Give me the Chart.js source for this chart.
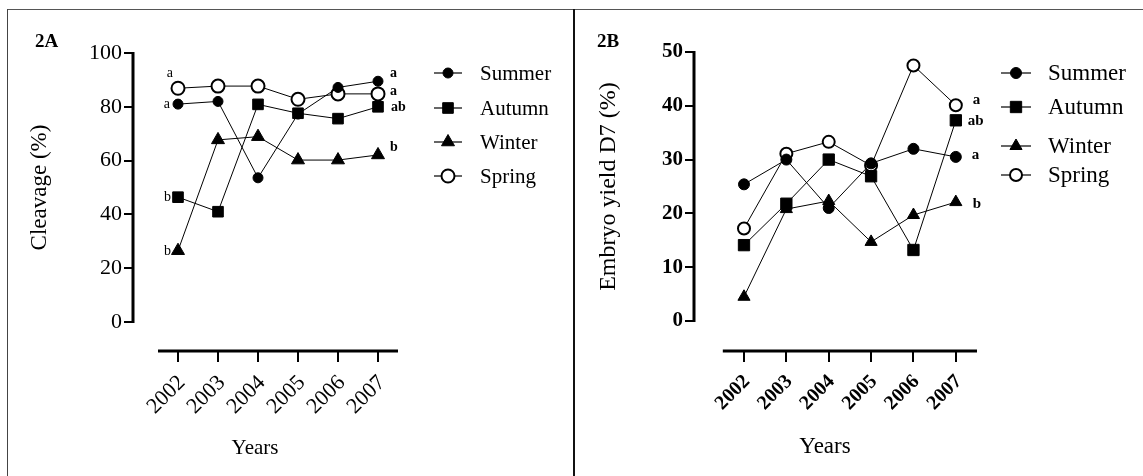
<!DOCTYPE html>
<html><head><meta charset="utf-8">
<script src="https://cdn.jsdelivr.net/npm/chart.js@4.4.1/dist/chart.umd.min.js"></script>
<style>
html,body{margin:0;padding:0;background:#fff;}
body{width:1143px;height:476px;position:relative;overflow:hidden;}
#frameTop{position:absolute;left:7px;top:9px;width:1136px;height:0;border-top:1.5px solid #555;}
#frameLeft{position:absolute;left:7px;top:9px;width:0;height:467px;border-left:1.5px solid #444;}
#divider{position:absolute;left:573px;top:9px;width:2px;height:467px;background:#111;z-index:5;}
canvas{position:absolute;top:0;}
#cA{left:0;}
#cB{left:574px;}
</style></head>
<body>
<div id="frameTop"></div><div id="frameLeft"></div><div id="divider"></div>
<canvas id="cA" width="574" height="476"></canvas>
<canvas id="cB" width="569" height="476"></canvas>
<script>
// ---- data ----
const years = [2002, 2003, 2004, 2005, 2006, 2007];
const yearLabels = ['2002', '2003', '2004', '2005', '2006', '2007'];
const seriesNames = ['Summer', 'Autumn', 'Winter', 'Spring'];

const cleavageSummer = [81.0, 82.0, 53.6, 77.3, 87.2, 89.5];
const cleavageAutumn = [46.4, 41.0, 80.9, 77.6, 75.6, 80.0];
const cleavageWinter = [26.5, 67.7, 68.9, 60.2, 60.2, 62.1];
const cleavageSpring = [86.9, 87.7, 87.7, 82.8, 84.8, 84.8];
const cleavageTicks = [0, 20, 40, 60, 80, 100];
const cleavageLettersFirst = ['a', 'b', 'b', 'a'];
const cleavageLettersLast = ['a', 'ab', 'b', 'a'];

const embryoSummer = [25.4, 30.0, 21.0, 29.3, 32.0, 30.5];
const embryoAutumn = [14.1, 21.8, 30.0, 26.9, 13.2, 37.3];
const embryoWinter = [4.5, 20.8, 22.3, 14.7, 19.7, 22.1];
const embryoSpring = [17.2, 31.1, 33.3, 28.9, 47.5, 40.1];
const embryoTicks = [0, 10, 20, 30, 40, 50];
const embryoLettersLast = ['a', 'ab', 'b', 'a'];

// ---- styling / layout ----
const SERIF = '"Liberation Serif", "Times New Roman", serif';
const pointStyles = ['circle', 'rect', 'triangle', 'circle'];
const pointFills = ['#000', '#000', '#000', '#fff'];

function panel(canvasId, cfg) {
  const datasets = cfg.series.map((arr, i) => ({
    label: seriesNames[i],
    data: years.map((x, j) => ({x: x, y: arr[j]})),
    borderColor: '#000',
    borderWidth: 1,
    pointStyle: pointStyles[i],
    pointRadius: cfg.radii[i],
    pointBackgroundColor: pointFills[i],
    pointBorderColor: '#000',
    pointBorderWidth: i === 3 ? 2 : 1,
    tension: 0,
    clip: false
  }));

  const deco = {
    id: 'deco' + canvasId,
    beforeDatasetsDraw(chart) {
      const ctx = chart.ctx, xs = chart.scales.x, ys = chart.scales.y, ca = chart.chartArea;
      ctx.save();
      ctx.strokeStyle = '#000';
      ctx.lineWidth = 3;
      ctx.beginPath();
      ctx.moveTo(ca.left, ys.getPixelForValue(cfg.yTicks[cfg.yTicks.length - 1]) - 1);
      ctx.lineTo(ca.left, ys.getPixelForValue(cfg.yTicks[0]) + 1);
      ctx.stroke();
      ctx.beginPath();
      ctx.moveTo(xs.getPixelForValue(years[0] - 0.5), ca.bottom);
      ctx.lineTo(xs.getPixelForValue(years[years.length - 1] + 0.5), ca.bottom);
      ctx.stroke();
      ctx.restore();
    },
    afterDraw(chart) {
      const ctx = chart.ctx, xs = chart.scales.x, ys = chart.scales.y;
      ctx.save();
      ctx.fillStyle = '#000';
      // panel label
      ctx.font = 'bold 19px ' + SERIF;
      ctx.textAlign = 'left'; ctx.textBaseline = 'middle';
      ctx.fillText(cfg.panelLabel, cfg.panelLabelPos[0], cfg.panelLabelPos[1]);
      // y title
      const yMid = (ys.getPixelForValue(cfg.yTicks[0]) + ys.getPixelForValue(cfg.yTicks[cfg.yTicks.length - 1])) / 2;
      ctx.save();
      ctx.translate(cfg.yTitleX, yMid);
      ctx.rotate(-Math.PI / 2);
      ctx.font = cfg.yTitleFont + ' ' + SERIF;
      ctx.textAlign = 'center'; ctx.textBaseline = 'middle';
      ctx.fillText(cfg.yTitle, 0, 0);
      ctx.restore();
      // x title
      ctx.font = cfg.xTitleFont + ' ' + SERIF;
      ctx.textAlign = 'center'; ctx.textBaseline = 'middle';
      ctx.fillText(cfg.xTitle, cfg.xTitlePos[0], cfg.xTitlePos[1]);
      // letters
      (cfg.letters || []).forEach(L => {
        ctx.font = L.font + ' ' + SERIF;
        ctx.textAlign = L.align; ctx.textBaseline = 'middle';
        L.texts.forEach((t, i) => {
          const px = xs.getPixelForValue(years[L.index]);
          const py = ys.getPixelForValue(cfg.series[i][L.index]);
          ctx.fillText(t, px + L.offsets[i][0], py + L.offsets[i][1]);
        });
      });
      // legend
      const lg = cfg.legend;
      chart.data.datasets.forEach((ds, i) => {
        const y = lg.rows[i];
        ctx.strokeStyle = '#000'; ctx.lineWidth = 1.2;
        ctx.beginPath();
        ctx.moveTo(lg.x - lg.half, y); ctx.lineTo(lg.x + lg.half, y);
        ctx.stroke();
        ctx.fillStyle = ds.pointBackgroundColor;
        ctx.strokeStyle = '#000';
        ctx.lineWidth = ds.pointBorderWidth;
        Chart.helpers.drawPoint(ctx, {pointStyle: ds.pointStyle, radius: ds.pointRadius, borderWidth: ds.pointBorderWidth, rotation: 0}, lg.x, y);
        ctx.fillStyle = '#000';
        ctx.font = lg.font + ' ' + SERIF;
        ctx.textAlign = 'left'; ctx.textBaseline = 'middle';
        ctx.fillText(ds.label, lg.textX, y + 1);
      });
      ctx.restore();
    }
  };

  return new Chart(document.getElementById(canvasId), {
    type: 'line',
    data: {datasets: datasets},
    options: {
      responsive: false, animation: false, devicePixelRatio: 1, events: [],
      layout: {padding: {left: 0, top: cfg.top, right: cfg.right, bottom: 0}},
      plugins: {legend: {display: false}, tooltip: {enabled: false}},
      scales: {
        x: {
          type: 'linear', min: cfg.xMin, max: cfg.xMax,
          afterBuildTicks: s => { s.ticks = years.map(v => ({value: v})); },
          afterFit: s => { s.height = cfg.xHeight; },
          grid: {drawOnChartArea: false, drawTicks: true, tickLength: 11, lineWidth: 2, color: '#000'},
          border: {display: false},
          ticks: {autoSkip: false, minRotation: 45, maxRotation: 45, color: '#000', padding: cfg.xTickPad,
                  labelOffset: cfg.xLabelOffset,
                  font: {family: SERIF, size: cfg.xTickSize, weight: cfg.tickWeight},
                  callback: v => yearLabels[years.indexOf(v)]}
        },
        y: {
          type: 'linear', min: cfg.yMin, max: cfg.yMax,
          afterBuildTicks: s => { s.ticks = cfg.yTicks.map(v => ({value: v})); },
          afterFit: s => { s.width = cfg.yWidth; },
          grid: {drawOnChartArea: false, drawTicks: true, tickLength: 9, lineWidth: 2, color: '#000'},
          border: {display: false},
          ticks: {color: '#000', padding: 2, font: {family: SERIF, size: cfg.yTickSize, weight: cfg.tickWeight},
                  callback: v => String(v)}
        }
      }
    },
    plugins: [deco]
  });
}

panel('cA', {
  series: [cleavageSummer, cleavageAutumn, cleavageWinter, cleavageSpring],
  radii: [5, 7.5, 7.5, 6.5],
  yTicks: cleavageTicks, yMin: -10.78, yMax: 100,
  xMin: 2000.875, xMax: 2007.5,
  top: 53, right: 176, yWidth: 133, xHeight: 125,
  xTickSize: 22, yTickSize: 22, tickWeight: 'normal', xTickPad: 8, xLabelOffset: 4,
  panelLabel: '2A', panelLabelPos: [35, 42],
  yTitle: 'Cleavage (%)', yTitleFont: '23px', yTitleX: 40,
  xTitle: 'Years', xTitleFont: '21px', xTitlePos: [255, 448],
  letters: [
    {index: 0, align: 'right', font: '14px', texts: cleavageLettersFirst,
     offsets: [[-8, 0], [-7, 0], [-7, 1], [-5, -15]]},
    {index: 5, align: 'left', font: 'bold 14px', texts: cleavageLettersLast,
     offsets: [[12, -8], [13, 1], [12, -8], [12, -2]]}
  ],
  legend: {x: 448, half: 14, textX: 480, rows: [73, 108, 142, 176], font: '21px'}
});

panel('cB', {
  series: [embryoSummer, embryoAutumn, embryoWinter, embryoSpring],
  radii: [5.5, 8, 7, 6],
  yTicks: embryoTicks, yMin: -5.58, yMax: 50,
  xMin: 2000.82, xMax: 2007.5,
  top: 52, right: 166, yWidth: 120, xHeight: 125,
  xTickSize: 20, yTickSize: 21, tickWeight: 'bold', xTickPad: 8, xLabelOffset: 3,
  panelLabel: '2B', panelLabelPos: [23, 42],
  yTitle: 'Embryo yield D7 (%)', yTitleFont: '24px', yTitleX: 35,
  xTitle: 'Years', xTitleFont: '23px', xTitlePos: [251, 447],
  letters: [
    {index: 5, align: 'left', font: 'bold 15px', texts: embryoLettersLast,
     offsets: [[16, -2], [12, 1], [17, 2], [17, -5]]}
  ],
  legend: {x: 442, half: 15, textX: 474, rows: [73, 107, 146, 175], font: '23px'}
});
</script>
</body></html>
